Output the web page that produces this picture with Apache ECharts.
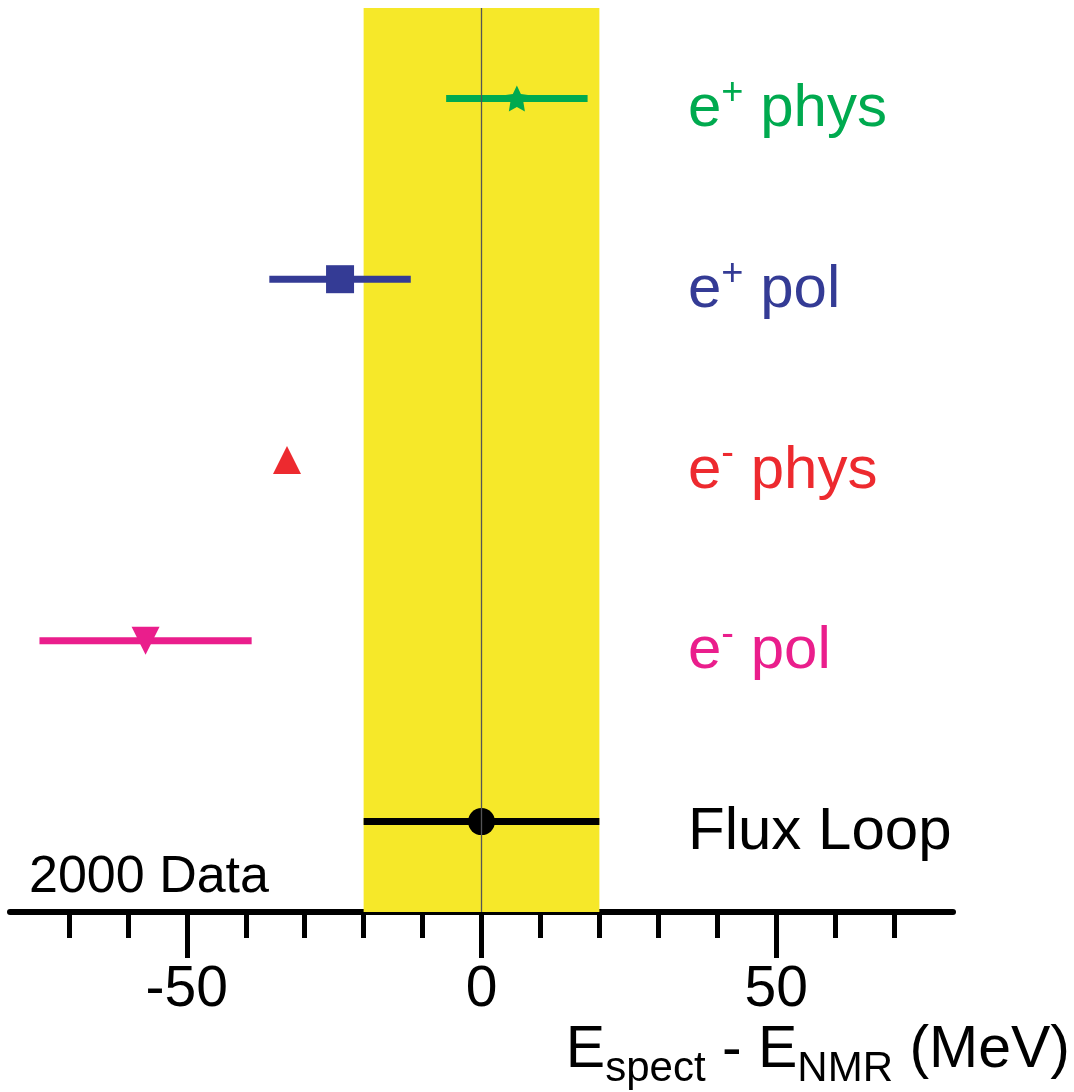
<!DOCTYPE html>
<html>
<head>
<meta charset="utf-8">
<script src="https://cdn.jsdelivr.net/npm/echarts@6/dist/echarts.min.js"></script>
<style>
  html, body { margin: 0; padding: 0; background: #ffffff; }
  #chart { width: 1074px; height: 1092px; }
</style>
</head>
<body>
<div id="chart"></div>
<script>
// Energy offsets of each measurement relative to the NMR reference (MeV)
const categories = ['Flux Loop', 'e- pol', 'e- phys', 'e+ pol', 'e+ phys'];
const centralValues = [0, -57, -33, -24, 6];
const errorValues = [20, 18, 0, 12, 12];

// Axis ticks
const minorTicks = [-70, -60, -40, -30, -20, -10, 10, 20, 30, 40, 60, 70];
const majorTicks = [-50, 0, 50];

// Shaded tolerance band
const bandRange = [-20, 20];

// Styling per row (bottom to top)
const rowColors = ['#000000', '#ea1e8c', '#ed2a2f', '#343b95', '#00aa4f'];
const STAR = 'path://M0,-10L2.94,-4.05L9.51,-3.09L4.76,1.55L5.88,8.09L0,5L-5.88,8.09L-4.76,1.55L-9.51,-3.09L-2.94,-4.05Z';
const rowSymbols = ['circle', 'triangle', 'triangle', 'rect', STAR];
const rowRotate = [0, 180, 0, 0, 0];
const rowSizes = [27, 28, 28, 28, [26, 26]];

const FONT = "'Liberation Sans', Arial, Helvetica, sans-serif";

const rich = {};
rowColors.forEach((c, i) => {
  rich['m' + i] = { color: c, fontSize: 60, fontFamily: FONT, lineHeight: 70 };
  rich['s' + i] = { color: c, fontSize: 38, fontFamily: FONT, lineHeight: 40, verticalAlign: 'top' };
});

function rowLabel(name, idx) {
  const m = /^e([+-]) (.*)$/.exec(name);
  if (!m) return '{m' + idx + '|' + name + '}';
  return '{m' + idx + '|e}{s' + idx + '|' + m[1] + '}{m' + idx + '| ' + m[2] + '}';
}

const chart = echarts.init(document.getElementById('chart'), null, { renderer: 'canvas' });

const option = {
  animation: false,
  backgroundColor: '#ffffff',
  grid: { left: 10, right: 121, top: 8, bottom: 180 },
  xAxis: [
    {
      type: 'value', min: -80, max: 80, interval: 10,
      position: 'bottom',
      splitLine: { show: false },
      axisLine: { show: true, lineStyle: { color: '#000', width: 6 } },
      axisTick: { show: true, customValues: minorTicks, length: 26, lineStyle: { color: '#000', width: 5 } },
      axisLabel: { show: false }
    },
    {
      type: 'value', min: -80, max: 80, interval: 10,
      position: 'bottom',
      splitLine: { show: false },
      axisLine: { show: false },
      axisTick: { show: true, customValues: majorTicks, length: 46, lineStyle: { color: '#000', width: 5 } },
      axisLabel: {
        show: true, customValues: majorTicks, margin: 50,
        fontSize: 57, fontFamily: FONT, color: '#000'
      }
    }
  ],
  yAxis: {
    type: 'category',
    data: categories,
    position: 'right',
    boundaryGap: true,
    axisLine: { show: false },
    axisTick: { show: false },
    splitLine: { show: false },
    axisLabel: {
      inside: true,
      align: 'left',
      margin: 265,
      padding: [22, 0, 0, 0],
      formatter: (v, i) => rowLabel(v, i),
      rich: rich
    }
  },
  graphic: [
    {
      type: 'text', left: 29, top: 852,
      style: { text: '2000 Data', fill: '#000', font: "52px 'Liberation Sans', Arial, sans-serif" }
    },
    {
      type: 'text', right: 4, top: 1021,
      style: {
        text: '{a|E}{b|spect}{a| - E}{b|NMR}{a| (MeV)}',
        rich: {
          a: { fontSize: 59, fontFamily: FONT, color: '#000', lineHeight: 80 },
          b: { fontSize: 42, fontFamily: FONT, color: '#000', lineHeight: 64, verticalAlign: 'bottom' }
        }
      }
    }
  ],
  series: [
    {
      // tolerance band and zero reference line
      type: 'scatter',
      data: [],
      z: 1,
      silent: true,
      markArea: {
        silent: true,
        itemStyle: { color: '#f6e829' },
        data: [[{ xAxis: bandRange[0] }, { xAxis: bandRange[1] }]]
      },
      markLine: {
        silent: true,
        symbol: 'none',
        label: { show: false },
        lineStyle: { color: '#555', width: 1.3, type: 'solid' },
        data: [{ xAxis: 0 }]
      }
    },
    {
      // horizontal error bars
      type: 'custom',
      z: 3,
      data: categories.map((c, i) => [centralValues[i], i, errorValues[i]]),
      encode: { x: 0, y: 1 },
      renderItem: (params, api) => {
        const err = api.value(2);
        if (!err) return null;
        const c = api.value(0);
        const cat = api.value(1);
        const p1 = api.coord([c - err, cat]);
        const p2 = api.coord([c + err, cat]);
        return {
          type: 'line',
          shape: { x1: p1[0], y1: p1[1], x2: p2[0], y2: p2[1] },
          style: { stroke: rowColors[params.dataIndex], lineWidth: 7 }
        };
      }
    },
    {
      // central values
      type: 'scatter',
      z: 4,
      data: categories.map((c, i) => ({
        value: [centralValues[i], i],
        symbol: rowSymbols[i],
        symbolSize: rowSizes[i],
        symbolRotate: rowRotate[i],
        itemStyle: { color: rowColors[i], opacity: 1 }
      }))
    }
  ]
};

chart.setOption(option);
</script>
</body>
</html>
